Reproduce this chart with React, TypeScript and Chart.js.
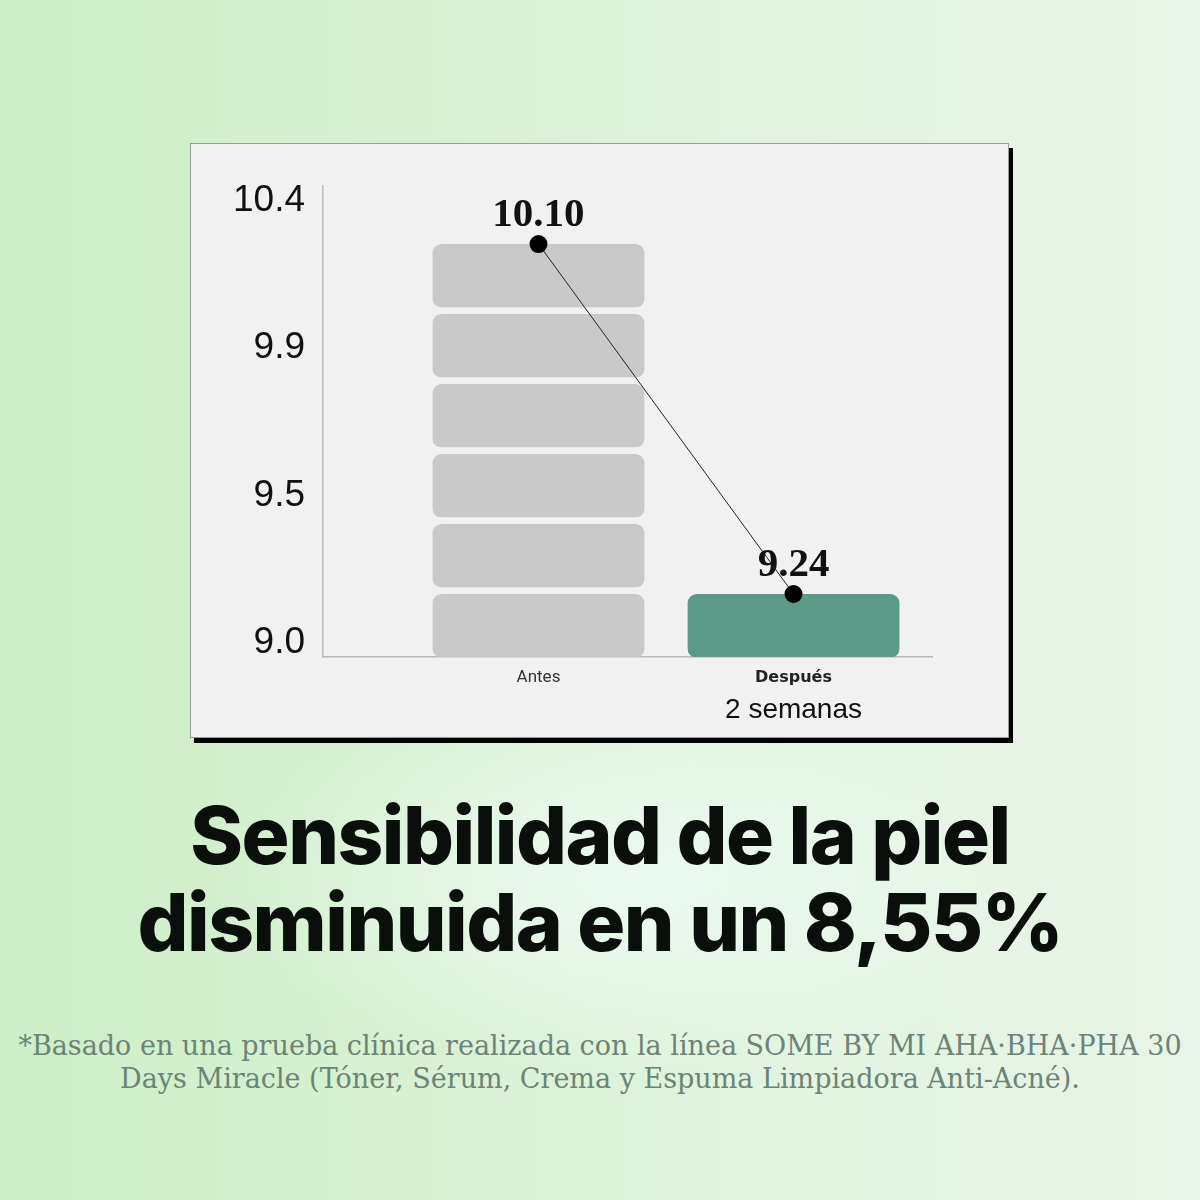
import React, { useEffect, useRef } from "react";
import { Chart, registerables } from "chart.js";

Chart.register(...registerables);

// ---- data ----
const categories = ["Antes", "Después"];
const subLabels = ["", "2 semanas"];
const values = [10.1, 9.24];
const blockCounts = [6, 1];
const yTickLabels = ["9.0", "9.5", "9.9", "10.4"];
const barColors = ["#c9c9c9", "#5b9a86"];

const titleLines = ["Sensibilidad de la piel", "disminuida en un 8,55%"];
const footnoteLines = [
  "*Basado en una prueba clínica realizada con la línea SOME BY MI AHA·BHA·PHA 30",
  "Days Miracle (Tóner, Sérum, Crema y Espuma Limpiadora Anti-Acné).",
];

const maxBlocks = Math.max(...blockCounts);

const valueLabelPlugin = {
  id: "valueLabels",
  beforeDatasetsDraw(chart: any) {
    const meta = chart.getDatasetMeta(0);
    const ctx = chart.ctx;
    ctx.save();
    ctx.font = 'bold 41px "Liberation Serif", "Times New Roman", serif';
    ctx.fillStyle = "#111";
    ctx.textAlign = "center";
    ctx.textBaseline = "alphabetic";
    meta.data.forEach((pt: any, i: number) => {
      ctx.fillText(values[i].toFixed(2), pt.x, pt.y - 18);
    });
    ctx.restore();
  },
};

function ChartPanel() {
  const ref = useRef<HTMLCanvasElement | null>(null);
  useEffect(() => {
    if (!ref.current) return;
    const blockDatasets = Array.from({ length: maxBlocks }, (_, k) => ({
      type: "bar" as const,
      label: "bloque " + (k + 1),
      data: categories.map((_, i) => ({ x: i, y: k < blockCounts[i] ? 1 : null })),
      backgroundColor: barColors,
      borderColor: "rgba(0,0,0,0)",
      borderWidth: { top: 0, left: 0, right: 0, bottom: 7 },
      borderSkipped: false,
      borderRadius: { topLeft: 9, topRight: 9, bottomLeft: 16, bottomRight: 16 },
      barThickness: 212,
      stack: "blocks",
      order: 1,
    }));
    const lineDataset = {
      type: "line" as const,
      label: "valor",
      data: categories.map((_, i) => ({ x: i, y: blockCounts[i] })),
      borderColor: "#222",
      borderWidth: 1,
      pointRadius: 9,
      pointHoverRadius: 9,
      pointBackgroundColor: "#000",
      pointBorderWidth: 0,
      stack: "line",
      order: 0,
    };
    const chart = new Chart(ref.current, {
      type: "bar",
      data: { datasets: [lineDataset as any, ...blockDatasets] },
      plugins: [valueLabelPlugin],
      options: {
        responsive: false,
        animation: false,
        layout: { padding: { top: 42, right: 76, left: 0, bottom: 0 } },
        plugins: { legend: { display: false }, tooltip: { enabled: false } },
        scales: {
          x: {
            type: "linear",
            position: "bottom",
            weight: 0,
            offset: false,
            min: -0.845,
            max: 1.543,
            grid: { display: false, drawTicks: false, offset: false },
            border: { display: true, color: "#b8b8b8", width: 1.5 },
            afterBuildTicks: (s: any) => {
              s.ticks = categories.map((_, i) => ({ value: i }));
            },
            afterFit: (s: any) => {
              s.height = 36;
            },
            ticks: {
              padding: 11,
              autoSkip: false,
              maxRotation: 0,
              callback: (_v: any, i: number) => categories[i],
              color: (c: any) => (c.index === 1 ? "#222" : "#333"),
              font: (c: any) =>
                c.index === 1
                  ? { family: '"DejaVu Sans", sans-serif', size: 16, weight: "bold" }
                  : { family: '"Liberation Sans Narrow", "Roboto", sans-serif', size: 17 },
            },
          },
          x2: {
            type: "linear",
            position: "bottom",
            weight: 1,
            offset: false,
            min: -0.845,
            max: 1.543,
            grid: { display: false, drawTicks: false, offset: false },
            border: { display: false },
            afterBuildTicks: (s: any) => {
              s.ticks = subLabels.map((_, i) => ({ value: i }));
            },
            afterFit: (s: any) => {
              s.height = 44;
            },
            ticks: {
              padding: 0,
              autoSkip: false,
              maxRotation: 0,
              callback: (_v: any, i: number) => subLabels[i],
              color: "#111",
              font: { family: '"Liberation Sans", Arial, sans-serif', size: 28 },
            },
          },
          y: {
            type: "linear",
            stacked: true,
            min: 0.1,
            max: 6.829,
            grid: { display: false, drawTicks: false },
            border: { display: true, color: "#bdbdbd", width: 1.5 },
            afterBuildTicks: (s: any) => {
              s.ticks = yTickLabels.map((_, i) => ({ value: 0.307 + i * 2.102 }));
            },
            afterFit: (s: any) => {
              s.width = 132;
            },
            ticks: {
              padding: 18,
              autoSkip: false,
              callback: (_v: any, i: number) => yTickLabels[i],
              color: "#111",
              font: { family: '"Liberation Sans", Arial, sans-serif', size: 37 },
            },
          },
        },
      } as any,
    });
    return () => chart.destroy();
  }, []);
  return <canvas ref={ref} width={817} height={593} style={{ display: "block", width: 817, height: 593 }} />;
}

export default function App() {
  return (
    <div
      style={{
        position: "absolute",
        left: 0,
        top: 0,
        width: 1200,
        height: 1200,
        overflow: "hidden",
        background:
          "radial-gradient(ellipse 420px 200px at 640px 880px, rgba(236,250,242,0.95) 0%, rgba(236,250,242,0) 100%), linear-gradient(90deg, #cdeec7 0%, #d8f1d3 35%, #e2f4e0 65%, #e8f4e7 100%)",
      }}
    >
      <div
        style={{
          position: "absolute",
          left: 190,
          top: 143,
          width: 817,
          height: 593,
          background: "#f1f1f1",
          border: "1px solid #9a9a9a",
          boxShadow: "4px 5px 0 #000",
        }}
      >
        <ChartPanel />
      </div>
      <div
        style={{
          position: "absolute",
          left: 0,
          top: 791,
          width: 1200,
          textAlign: "center",
          fontFamily: 'Inter, "Liberation Sans", sans-serif',
          fontWeight: 800,
          fontSize: 80,
          lineHeight: "87px",
          letterSpacing: "-1.5px",
          color: "#0b0f0b",
        }}
      >
        {titleLines.map((l, i) => (
          <div key={i}>{l}</div>
        ))}
      </div>
      <div
        style={{
          position: "absolute",
          left: 0,
          top: 1029,
          width: 1200,
          textAlign: "center",
          fontFamily: '"DejaVu Serif", serif',
          fontSize: 27,
          lineHeight: "33px",
          color: "#6c8377",
        }}
      >
        {footnoteLines.map((l, i) => (
          <div key={i}>{l}</div>
        ))}
      </div>
    </div>
  );
}
